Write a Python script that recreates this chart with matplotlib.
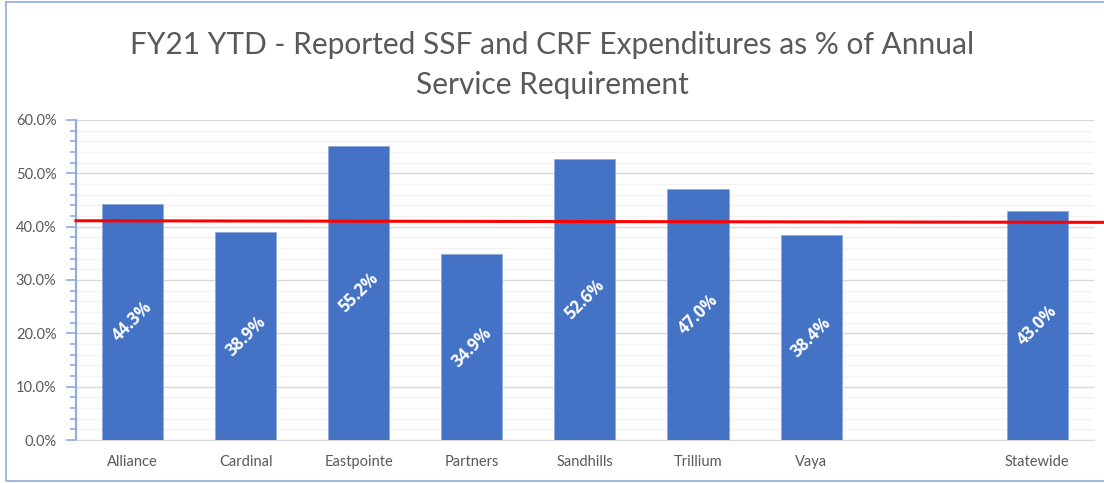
import matplotlib.pyplot as plt
import numpy as np
from matplotlib.patches import Rectangle
from matplotlib.ticker import MultipleLocator, PercentFormatter

# data
regions = ['Alliance', 'Cardinal', 'Eastpointe', 'Partners', 'Sandhills',
           'Trillium', 'Vaya', '', 'Statewide']
pct = [44.3, 38.9, 55.2, 34.9, 52.6, 47.0, 38.4, np.nan, 43.0]
target_left = 41.1   # red reference line, slightly sloped
target_right = 40.8

plt.rcParams['font.family'] = ['Lato', 'DejaVu Sans']

fig = plt.figure(figsize=(11.04, 4.83), dpi=100)
ax = fig.add_axes([0.0688, 0.089, 0.922, 0.6627])

x = np.arange(len(regions))
bars = ax.bar(x, pct, width=0.54, color='#4472C4', edgecolor='#8FAADC',
              linewidth=0.6, zorder=3)

# value labels, rotated, centred in bar
for xi, v in zip(x, pct):
    if np.isnan(v):
        continue
    ax.text(xi, v / 2, f'{v:.1f}%', rotation=45, ha='center', va='center',
            color='white', fontsize=12, fontweight='bold',
            family=['Open Sans', 'DejaVu Sans'], zorder=4)

ax.set_xlim(-0.5, len(regions) - 0.5)
ax.set_ylim(0, 60)
ax.yaxis.set_major_locator(MultipleLocator(10))
ax.yaxis.set_minor_locator(MultipleLocator(2))
ax.yaxis.set_major_formatter(PercentFormatter(decimals=1))
ax.grid(axis='y', which='major', color='#D9D9D9', linewidth=1, zorder=0)
ax.grid(axis='y', which='minor', color='#F2F2F2', linewidth=1, zorder=0)

ax.set_xticks(x)
ax.set_xticklabels(regions)
ax.tick_params(axis='x', length=0, pad=11, labelsize=10.5, labelcolor='#595959')
ax.tick_params(axis='y', which='major', length=7, width=1.2, color='#8FAADC',
               labelsize=10.5, labelcolor='#595959', pad=7)
ax.tick_params(axis='y', which='minor', length=4, width=1.2, color='#8FAADC')

for s in ['top', 'right']:
    ax.spines[s].set_visible(False)
ax.spines['left'].set_color('#8FAADC')
ax.spines['left'].set_linewidth(1.5)
ax.spines['bottom'].set_color('#D9D9D9')

# red reference line runs past the plot area to the image edge
ax.plot([-0.5, 8.58], [target_left, target_right], color='#FF0000',
        linewidth=2.2, zorder=5, clip_on=False)

fig.text(0.5, 0.865, 'FY21 YTD - Reported SSF and CRF Expenditures as % of Annual\nService Requirement',
         ha='center', va='center', fontsize=21.5, color='#595959', linespacing=1.5)

# chart border
fig.patches.append(Rectangle((6 / 1104, 2 / 483), 1.1, 479 / 483, transform=fig.transFigure,
                             fill=False, edgecolor='#8FAADC', linewidth=1.2))

fig.savefig('out.png', dpi=100)
